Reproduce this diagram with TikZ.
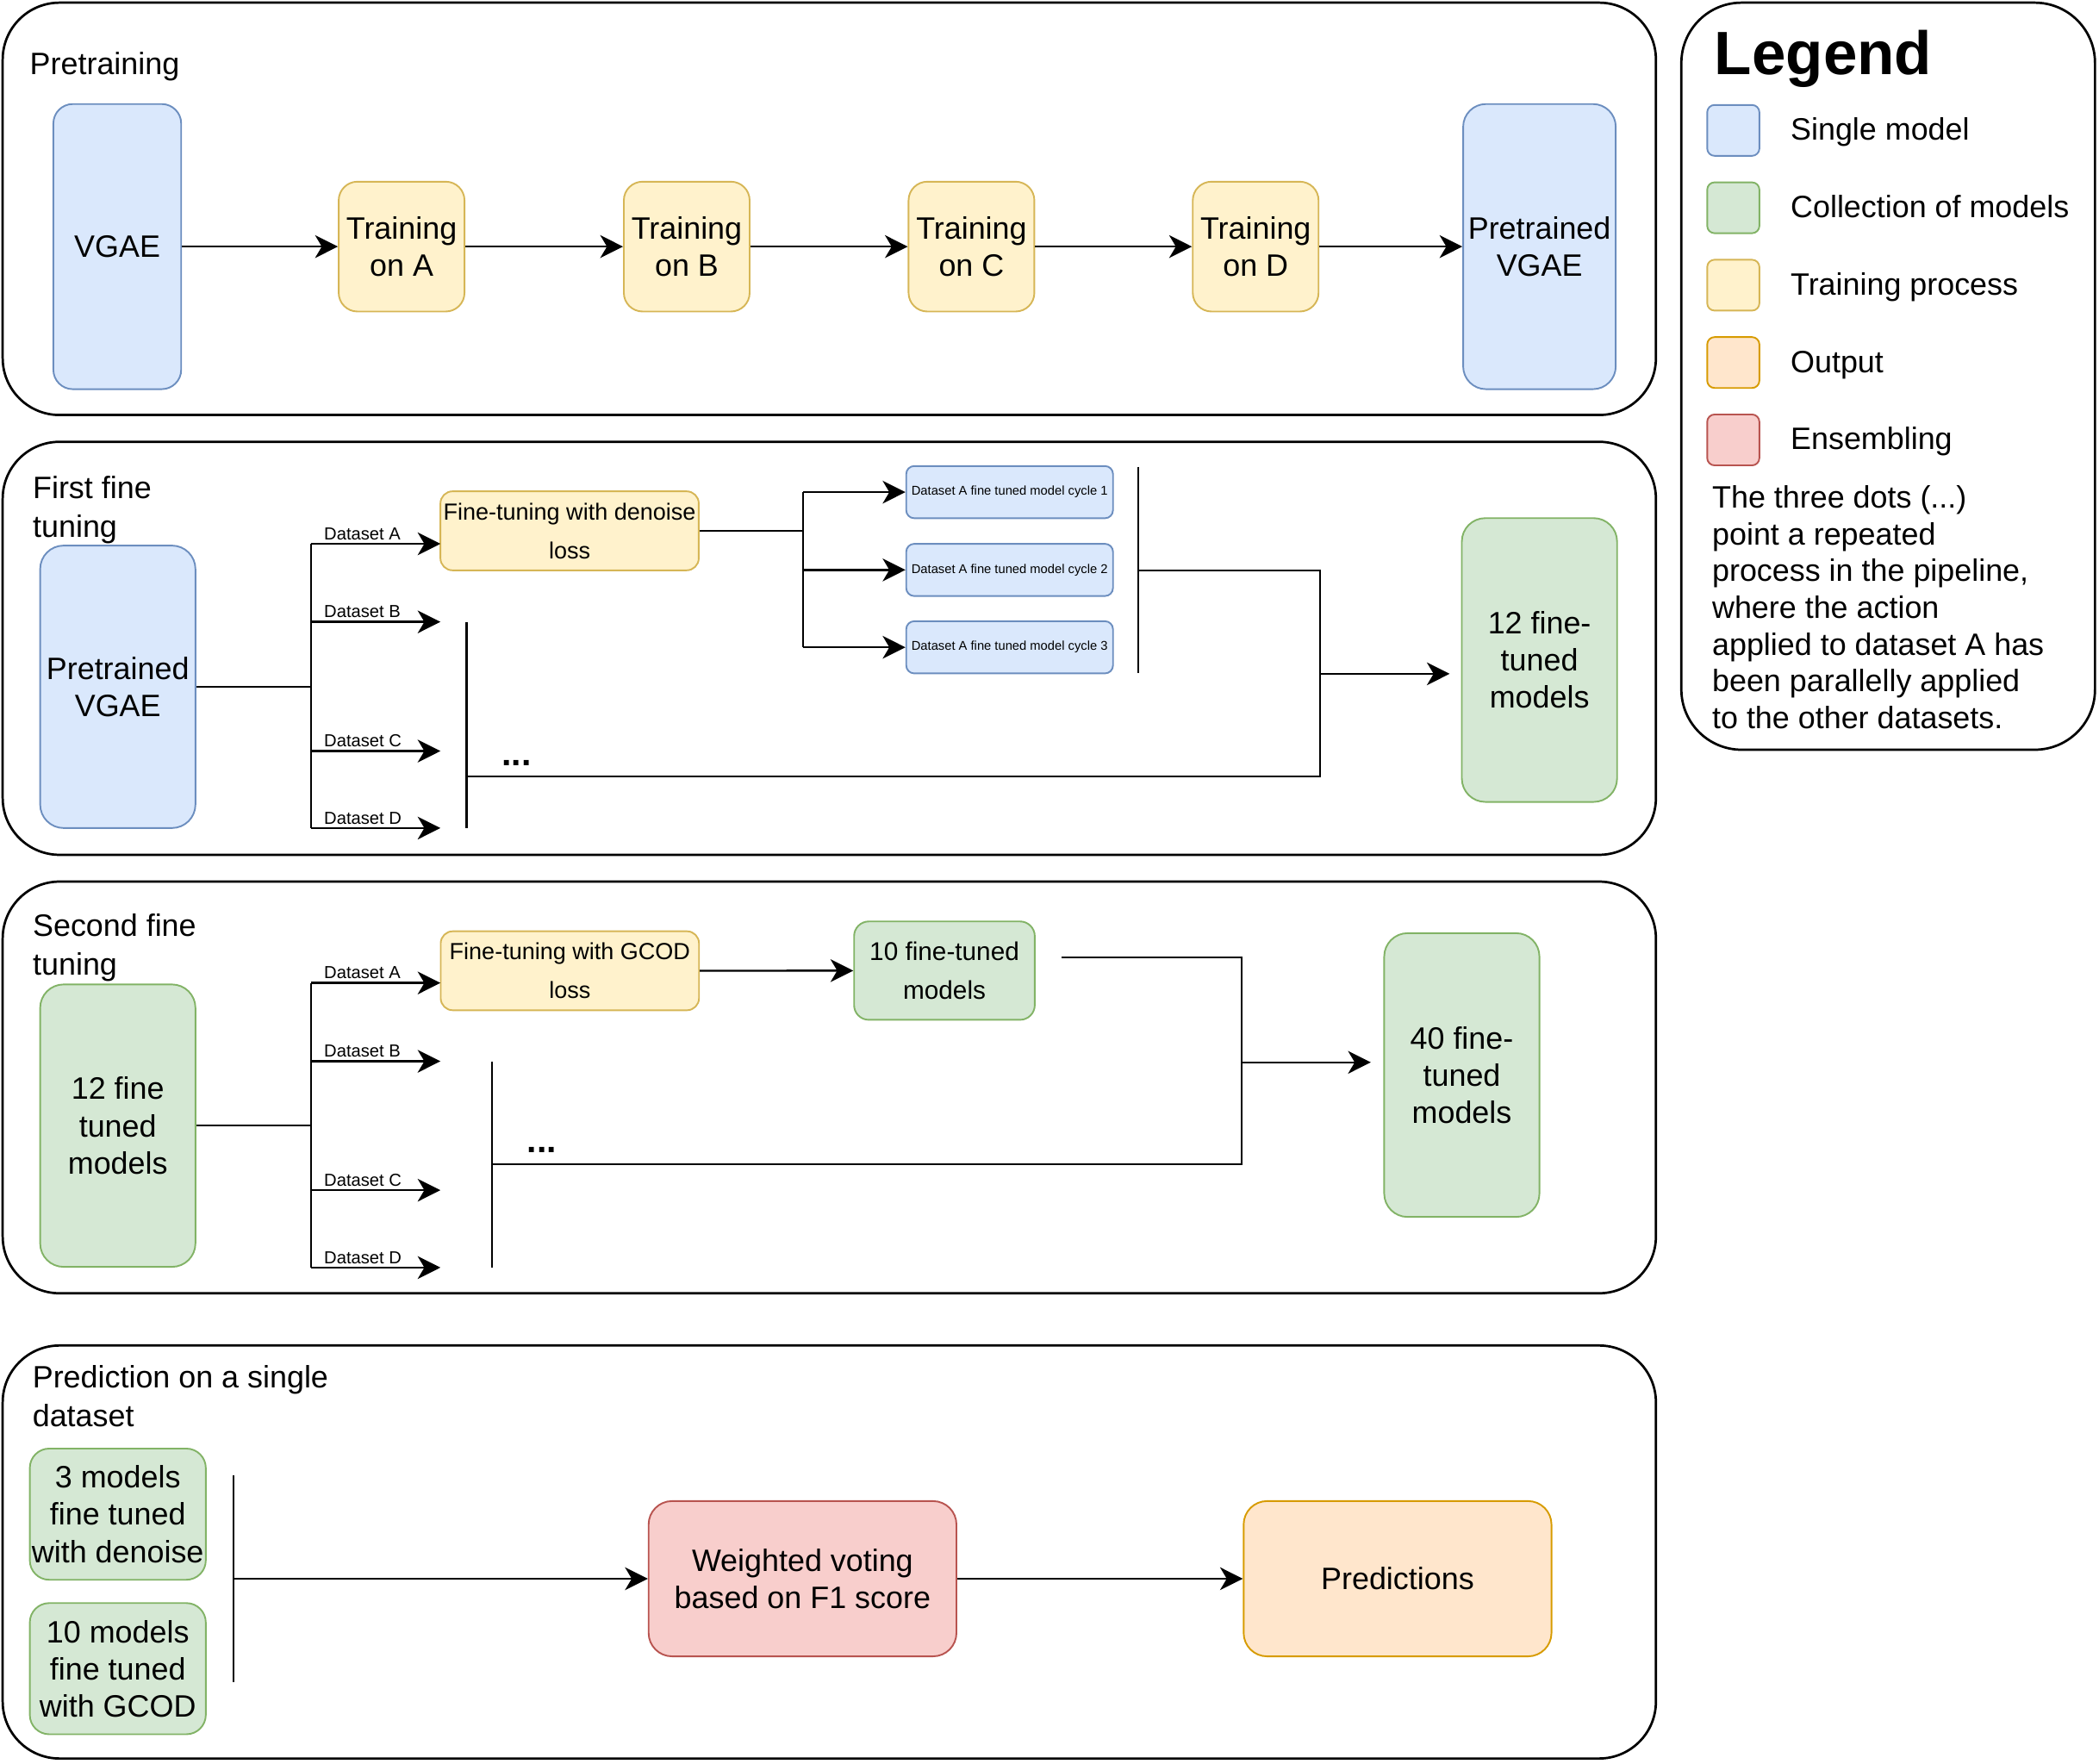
\documentclass[tikz,border=0pt]{standalone}
\usepackage{fontspec}
\setmainfont{Liberation Sans}
\usetikzlibrary{arrows.meta}

\definecolor{modelfill}{HTML}{DAE8FC}
\definecolor{modeldraw}{HTML}{6C8EBF}
\definecolor{collfill}{HTML}{D5E8D4}
\definecolor{colldraw}{HTML}{82B366}
\definecolor{trainfill}{HTML}{FFF2CC}
\definecolor{traindraw}{HTML}{D6B656}
\definecolor{outfill}{HTML}{FFE6CC}
\definecolor{outdraw}{HTML}{D79B00}
\definecolor{ensfill}{HTML}{F8CECC}
\definecolor{ensdraw}{HTML}{B85450}

\begin{document}
\begin{tikzpicture}[x=0.02cm,y=-0.02cm]

    % let's define some key values
    \def\trunkx{232.4}
    \def\branchx{329}
    \def\bigw{2.32cm}
    \def\bigh{4.24cm}

    % Styles
    \tikzstyle{box}=[rounded corners=0.29cm, line width=0.7pt, inner sep=0pt, align=center,
        font=\fontsize{13.15}{15.8}\selectfont]
    \tikzstyle{modelbox}=[box, fill=modelfill, draw=modeldraw]
    \tikzstyle{collbox}=[box, fill=collfill, draw=colldraw]
    \tikzstyle{trainbox}=[box, fill=trainfill, draw=traindraw]
    \tikzstyle{outbox}=[box, fill=outfill, draw=outdraw]
    \tikzstyle{ensbox}=[box, fill=ensfill, draw=ensdraw]
    \tikzstyle{panel}=[rounded corners=0.85cm, line width=1pt]
    \tikzstyle{wire}=[line width=0.85pt]
    \tikzstyle{arrow}=[wire, -{Stealth[length=0.34cm,width=0.34cm,inset=0.1cm]}]
    \tikzstyle{title}=[inner sep=0pt, align=left, anchor=north west,
        font=\fontsize{13.15}{16.5}\selectfont]
    \tikzstyle{dslabel}=[inner sep=0pt, anchor=base west, font=\fontsize{7.4}{9}\selectfont]
    \tikzstyle{dots}=[inner sep=0pt, anchor=base west, font=\fontsize{15}{18}\selectfont\bfseries]

    \useasboundingbox (0,0) rectangle (1568,1317);

    % panels
    \draw[panel] (2,2) rectangle (1237,310);
    \draw[panel] (2,330) rectangle (1237,638.5);
    \draw[panel] (2,658.5) rectangle (1237,966);
    \draw[panel] (2,1005) rectangle (1237,1313.5);
    \draw[panel, rounded corners=0.9cm] (1256,2) rectangle (1565,560);

    % Pretraining
    \node[title, anchor=base west] (ptlabel) at (22,56) {Pretraining};
    \node[modelbox, minimum width=1.91cm, minimum height=4.26cm] (vgae) at (87.6,184.2) {VGAE};
    \foreach \ds/\xx in {A/300,B/513,C/725.7,D/938}{
        \node[trainbox, minimum width=1.88cm, minimum height=1.94cm, rounded corners=0.28cm]
            (tr\ds) at (\xx,184.2) {Training\\on \ds};
    }
    \node[modelbox, minimum width=2.28cm, minimum height=4.26cm, rounded corners=0.34cm]
        (pvgae) at (1150,184.2) {Pretrained\\VGAE};
    \draw[arrow] (vgae) -- (trA);
    \draw[arrow] (trA) -- (trB);
    \draw[arrow] (trB) -- (trC);
    \draw[arrow] (trC) -- (trD);
    \draw[arrow] (trD) -- (pvgae);

    % First fine tuning
    \node[title] (fflabel) at (24.2,355) {First fine\\tuning};
    \node[modelbox, minimum width=\bigw, minimum height=4.22cm, rounded corners=0.35cm]
        (pvgaeb) at (88,513) {Pretrained\\VGAE};
    \node[trainbox, minimum width=3.86cm, minimum height=1.18cm, rounded corners=0.18cm,
        font=\fontsize{9.9}{16.5}\selectfont] (ftden) at (425.5,396.5) {Fine-tuning with denoise\\loss};
    \node[collbox, minimum width=\bigw, minimum height=\bigh, rounded corners=0.35cm]
        (twelve) at (1150,493) {12 fine-\\tuned\\models};

    % datasets
    \foreach \ds/\yy in {A/406.2,B/464.5,C/561,D/618.5}{
        \coordinate (fa\ds) at (\trunkx,\yy);
        \coordinate (fb\ds) at (\branchx,\yy);
        \draw[arrow] (fa\ds) -- (fb\ds) node[dslabel, pos=0, xshift=0.18cm, yshift=0.06cm] {Dataset \ds};
    }
    \draw[wire] (faA) -- (faD);
    \draw[wire] (pvgaeb.east) -- (pvgaeb.east -| faA);

    % three cycles of dataset A
    \coordinate (split) at (599.8,396.5);
    \draw[wire] (ftden.east) -- (split);
    \foreach \i/\yy in {1/367.6,2/425.7,3/483.5}{
        \node[modelbox, minimum width=3.09cm, minimum height=0.78cm, rounded corners=0.12cm,
            font=\fontsize{5.4}{6}\selectfont] (cyc\i) at (754.2,\yy) {Dataset A fine tuned model cycle \i};
        \draw[arrow] (cyc\i.west -| split) -- (cyc\i.west);
    }
    \draw[wire] (cyc1.west -| split) -- (cyc3.west -| split);

    % collecting the models
    \coordinate (brt) at (850.5,348.7);
    \coordinate (brb) at (850.5,502.9);
    \coordinate (colla) at (850.5,426);
    \coordinate (collb) at (986,426);
    \coordinate (collc) at (986,580);
    \coordinate (colld) at (348.6,580);
    \coordinate (dotst) at (348.6,464.5);
    \coordinate (dotsb) at (348.6,618.5);
    \coordinate (collout) at (986,503.3);
    \coordinate (collend) at (1082.9,503.3);
    \draw[wire] (brt) -- (brb);
    \draw[wire] (dotst) -- (dotsb);
    \draw[wire] (colla) -- (collb) -- (collc) -- (colld);
    \draw[arrow] (collout) -- (collend);
    \node[dots] (dotsa) at (374.5,572) {...};

    % Second fine tuning
    \node[title] (sflabel) at (24.2,682) {Second fine\\tuning};
    \node[collbox, minimum width=\bigw, minimum height=4.22cm, rounded corners=0.35cm]
        (tft) at (88,840.8) {12 fine\\tuned\\models};
    \node[trainbox, minimum width=3.86cm, minimum height=1.18cm, rounded corners=0.18cm,
        font=\fontsize{9.9}{16.5}\selectfont] (gcod) at (425.7,725.1) {Fine-tuning with GCOD\\loss};
    \node[collbox, minimum width=2.7cm, minimum height=1.47cm, rounded corners=0.22cm,
        font=\fontsize{10.9}{16.5}\selectfont] (ten) at (705.5,725) {10 fine-tuned\\models};
    \node[collbox, minimum width=\bigw, minimum height=\bigh, rounded corners=0.35cm]
        (forty) at (1092,803) {40 fine-\\tuned\\models};

    \foreach \ds/\yy in {A/734.2,B/792.7,C/889,D/946.8}{
        \coordinate (sa\ds) at (\trunkx,\yy);
        \coordinate (sb\ds) at (\branchx,\yy);
        \draw[arrow] (sa\ds) -- (sb\ds) node[dslabel, pos=0, xshift=0.18cm, yshift=0.06cm] {Dataset \ds};
    }
    \draw[wire] (saA) -- (saD);
    \draw[wire] (tft.east) -- (tft.east -| saA);
    \draw[arrow] (gcod) -- (ten);

    \coordinate (sca) at (792.7,715.3);
    \coordinate (scb) at (927.5,715.3);
    \coordinate (scc) at (927.5,869.8);
    \coordinate (scd) at (367.6,869.8);
    \coordinate (sdotst) at (367.6,792.7);
    \coordinate (sdotsb) at (367.6,946.8);
    \coordinate (scout) at (927.5,793.5);
    \coordinate (scend) at (1024,793.5);
    \draw[wire] (sca) -- (scb) -- (scc) -- (scd);
    \draw[wire] (sdotst) -- (sdotsb);
    \draw[arrow] (scout) -- (scend);
    \node[dots] (dotsb) at (393.5,861) {...};

    % Prediction on a single dataset
    \node[title] (predlabel) at (24,1019.4) {Prediction on a single\\dataset};
    \node[collbox, minimum width=2.63cm, minimum height=1.96cm] (three) at (88,1131)
        {3 models\\fine tuned\\with denoise};
    \node[collbox, minimum width=2.63cm, minimum height=1.96cm] (tenb) at (88,1246.4)
        {10 models\\fine tuned\\with GCOD};
    \coordinate (ensa) at (174.5,1101.7);
    \coordinate (ensb) at (174.5,1256.2);
    \node[ensbox, minimum width=4.6cm, minimum height=2.32cm, rounded corners=0.35cm]
        (vote) at (599.5,1179.2) {Weighted voting\\based on F1 score};
    \node[outbox, minimum width=4.6cm, minimum height=2.32cm, rounded corners=0.35cm]
        (pred) at (1044,1179.2) {Predictions};
    \draw[wire] (ensa) -- (ensb);
    \draw[arrow] (vote.west -| ensa) -- (vote);
    \draw[arrow] (vote) -- (pred);

    % Legend
    \node[inner sep=0pt, anchor=base west, font=\fontsize{26}{30}\selectfont\bfseries]
        (legtitle) at (1280.5,56) {Legend};
    \foreach \n/\kind/\txt in {0/modelbox/Single model,1/collbox/Collection of models,
        2/trainbox/Training process,3/outbox/Output,4/ensbox/Ensembling}{
        \node[\kind, minimum width=0.78cm, minimum height=0.76cm, rounded corners=0.11cm]
            (sw\n) at (1294.8,{97.4+57.8*\n}) {};
        \node[title, anchor=base west] (lg\n) at (1337.3,{104.7+57.8*\n}) {\txt};
    }
    \node[title, font=\fontsize{13.15}{15.66}\selectfont] (legnote) at (1278.7,362.2)
        {The three dots (...)\\point a repeated\\process in the pipeline,\\where the action\\applied to dataset A has\\been parallelly applied\\to the other datasets.};

\end{tikzpicture}
\end{document}
